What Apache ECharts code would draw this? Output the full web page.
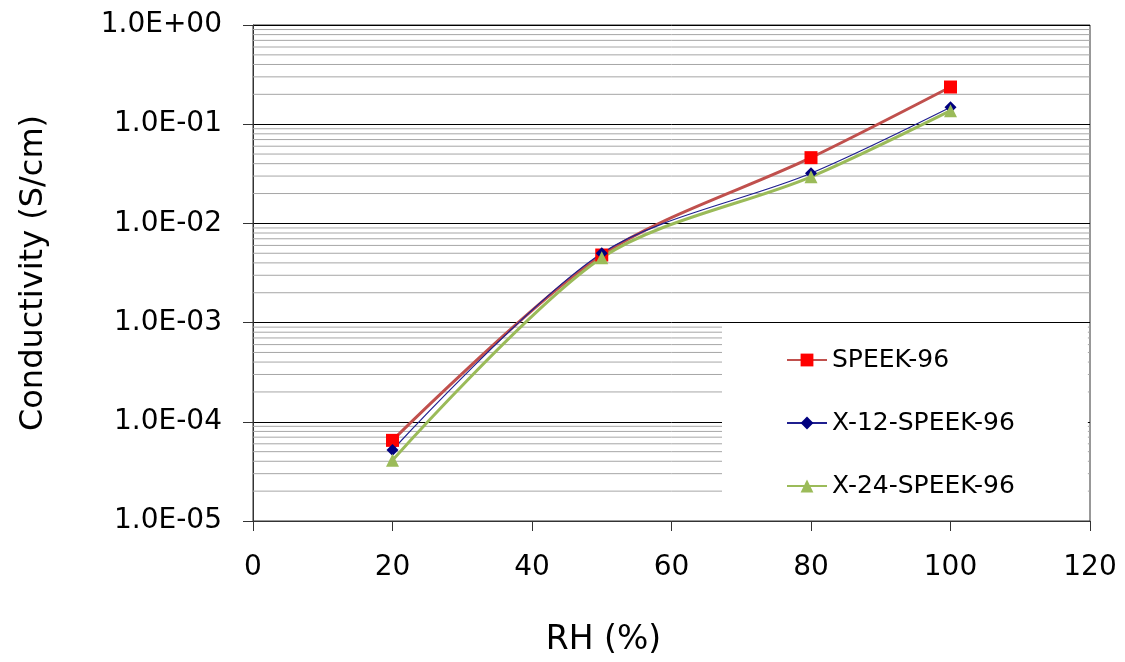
<!DOCTYPE html>
<html>
<head>
<meta charset="utf-8">
<script src="https://cdn.jsdelivr.net/npm/echarts@6/dist/echarts.min.js"></script>
<style>
html,body{margin:0;padding:0;background:#fff;}
#chart{width:1125px;height:662px;}
</style>
</head>
<body>
<div id="chart"></div>
<script>
// ---- data ----
const rh = [20, 50, 80, 100];
const speek96 = [6.5e-5, 4.8e-3, 0.046, 0.237];
const x12speek96 = [5.2e-5, 5.0e-3, 0.032, 0.148];
const x24speek96 = [4.1e-5, 4.5e-3, 0.0295, 0.137];
const seriesNames = ['SPEEK-96', 'X-12-SPEEK-96', 'X-24-SPEEK-96'];
const yTickLabels = ['1.0E-05', '1.0E-04', '1.0E-03', '1.0E-02', '1.0E-01', '1.0E+00'];
const yDecades = [1e-5, 1e-4, 1e-3, 1e-2, 1e-1];
const minorMultipliers = [2, 3, 4, 5, 6, 7, 8, 9];
const xRange = [0, 120];

const FONT = 'DejaVu Sans';
const pairs = arr => rh.map((x, i) => [x, arr[i]]);

// minor (2..9 per decade) horizontal gridlines, drawn through the axes' own scales
const minorSeries = [];
yDecades.forEach(d => minorMultipliers.forEach(m => {
  const v = parseFloat((d * m).toPrecision(6));
  minorSeries.push({
    type: 'line', silent: true, z: 1, symbol: 'none', legendHoverLink: false,
    data: [[xRange[0], v], [xRange[1], v]],
    lineStyle: { color: '#a6a6a6', width: 1 },
    emphasis: { disabled: true }, tooltip: { show: false }
  });
}));

const chart = echarts.init(document.getElementById('chart'));
chart.setOption({
  animation: false,
  backgroundColor: '#fff',
  grid: { left: 253, right: 35, top: 25, bottom: 141, show: true, borderColor: '#333', borderWidth: 1 },
  xAxis: {
    type: 'value', min: xRange[0], max: xRange[1], interval: 20,
    name: 'RH (%)', nameLocation: 'middle', nameGap: 103,
    nameTextStyle: { fontFamily: FONT, fontSize: 33, color: '#000', padding: [0, 136, 0, 0] },
    axisLine: { show: true, onZero: false, lineStyle: { color: '#333', width: 1 } },
    axisTick: { show: true, inside: false, length: 10, lineStyle: { color: '#333' } },
    axisLabel: { fontFamily: FONT, fontSize: 28, color: '#000', margin: 33 },
    splitLine: { show: false }
  },
  yAxis: {
    type: 'log', logBase: 10, min: 1e-5, max: 1, splitNumber: 5,
    name: 'Conductivity (S/cm)', nameLocation: 'middle', nameGap: 203, nameRotate: 90,
    nameTextStyle: { fontFamily: FONT, fontSize: 32, color: '#000' },
    axisLine: { show: true, lineStyle: { color: '#333', width: 1 } },
    axisTick: { show: true, inside: false, length: 10, lineStyle: { color: '#333' } },
    axisLabel: {
      fontFamily: FONT, fontSize: 28, color: '#000', margin: 31,
      formatter: v => yTickLabels[Math.round(Math.log10(v)) + 5]
    },
    splitLine: { show: true, lineStyle: { color: '#000', width: 1 } }
  },
  legend: {
    orient: 'vertical', left: 722, top: 324,
    padding: [23, 73, 6, 64],
    backgroundColor: '#fff',
    itemWidth: 40, itemHeight: 16, itemGap: 37,
    textStyle: { fontFamily: FONT, fontSize: 25, color: '#000', lineHeight: 26 },
    data: seriesNames
  },
  series: minorSeries.concat([
    {
      name: seriesNames[0], type: 'line', data: pairs(speek96), smooth: 0.3, z: 3,
      symbol: 'rect', symbolSize: 13,
      lineStyle: { color: '#C0504D', width: 3 },
      itemStyle: { color: '#FF0000' }
    },
    {
      name: seriesNames[1], type: 'line', data: pairs(x12speek96), smooth: 0.3, z: 3,
      symbol: 'diamond', symbolSize: 12,
      lineStyle: { color: '#1F1F8F', width: 1.2 },
      itemStyle: { color: '#00007F' }
    },
    {
      name: seriesNames[2], type: 'line', data: pairs(x24speek96), smooth: 0.3, z: 3,
      symbol: 'triangle', symbolSize: 13,
      lineStyle: { color: '#9BBB59', width: 3 },
      itemStyle: { color: '#9BBB59' }
    }
  ])
});
</script>
</body>
</html>
